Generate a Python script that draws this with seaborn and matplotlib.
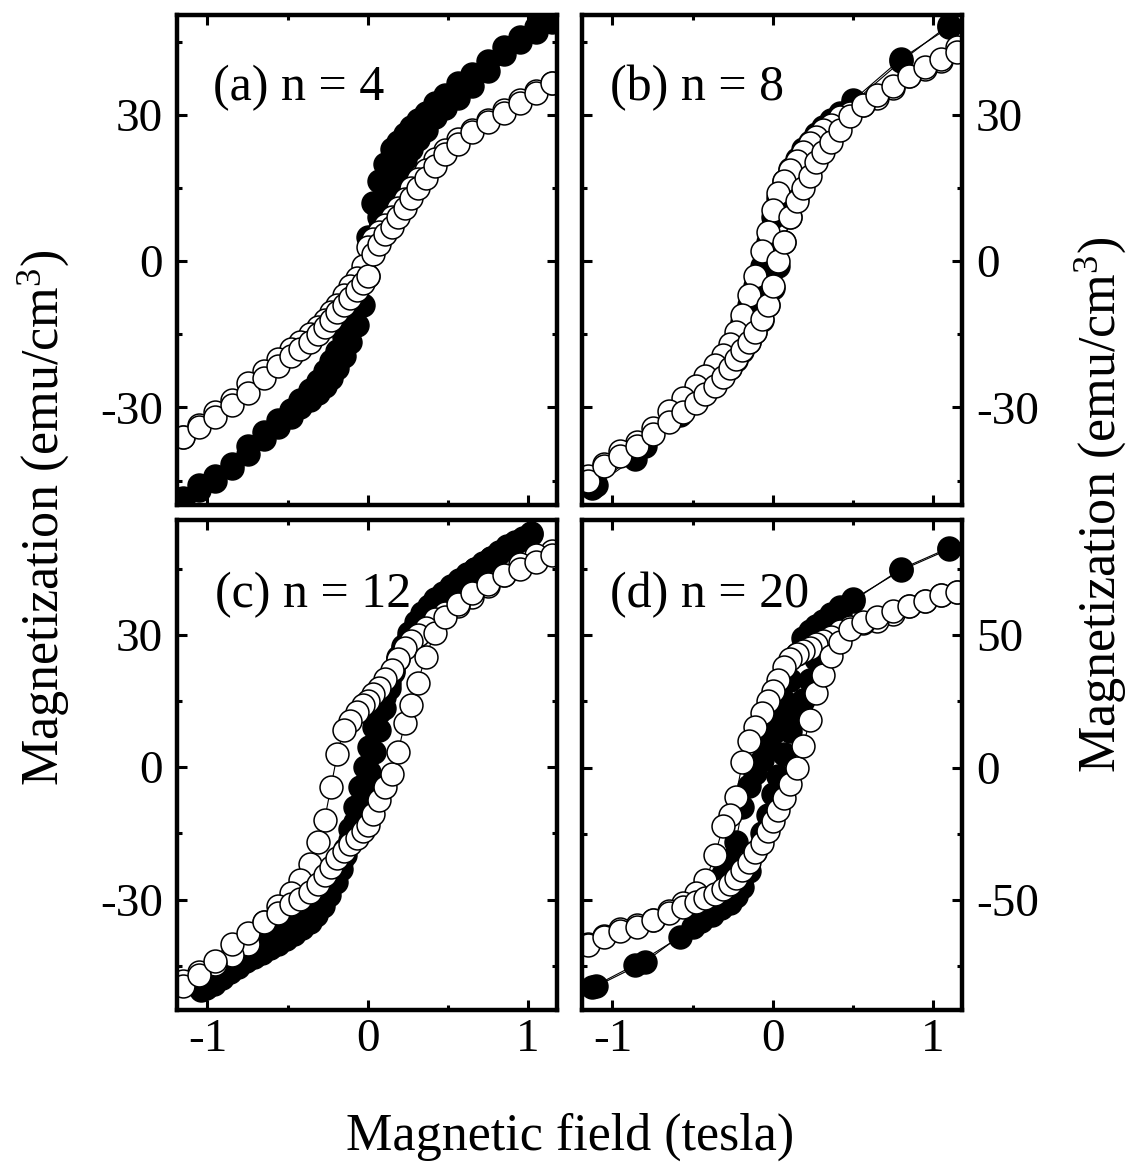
import matplotlib
matplotlib.use("Agg")
import matplotlib.pyplot as plt
import seaborn as sns
from matplotlib.ticker import MultipleLocator

# ---------------------------------------------------------------
# Field sweeps (tesla)
# ---------------------------------------------------------------
field_down = [1.15, 1.05, 0.95, 0.85, 0.75, 0.65, 0.56, 0.48, 0.42, 0.36,
              0.31, 0.27, 0.23, 0.19, 0.15, 0.11, 0.07, 0.03, 0.0, -0.03,
              -0.07, -0.11, -0.15, -0.19, -0.23, -0.27, -0.31, -0.36, -0.42, -0.48,
              -0.56, -0.65, -0.75, -0.85, -0.95, -1.05, -1.15]
field_up = field_down[::-1]

field_coarse_down = [1.1, 0.8, 0.5, 0.42, 0.36, 0.31, 0.27, 0.23, 0.19, 0.15,
                     0.11, 0.07, 0.03, 0.0, -0.03, -0.07, -0.11, -0.15, -0.19, -0.23,
                     -0.27, -0.31, -0.36, -0.42, -0.5, -0.8, -1.1]
field_coarse_up = [-1.13, -0.86, -0.58, -0.45, -0.38, -0.32, -0.27, -0.23, -0.19, -0.15,
                   -0.11, -0.07, -0.03, 0.0, 0.03, 0.07, 0.11, 0.15, 0.19, 0.23,
                   0.27, 0.31, 0.36, 0.42, 0.5, 0.8, 1.1]

field_band_down = [1.02, 0.97, 0.92, 0.87, 0.82, 0.77, 0.72, 0.67, 0.62, 0.57,
                   0.52, 0.47, 0.42, 0.38, 0.34, 0.30, 0.26, 0.22, 0.19, 0.16,
                   0.13, 0.10, 0.07, 0.04, 0.01, -0.02, -0.05, -0.08, -0.11, -0.14,
                   -0.17, -0.20, -0.24, -0.28, -0.32, -0.36, -0.41, -0.46, -0.51, -0.56,
                   -0.61, -0.66, -0.71, -0.76, -0.81, -0.86, -0.91, -0.96, -1.01, -1.04]
field_band_up = field_band_down[::-1]

# ---------------------------------------------------------------
# Magnetization (emu/cm^3): filled = solid symbols, open = hollow symbols
# ---------------------------------------------------------------
# (a) n = 4
m4_filled_down = [49.5, 48, 46, 44, 41, 38.5, 36.5, 34, 32.5, 30.5,
                  29, 27.5, 26, 24.5, 23, 20, 16.5, 12, 5, -3,
                  -8, -12, -15.5, -18.5, -20.5, -22.5, -24.5, -26.5, -28.5, -30.5,
                  -32.5, -35, -38, -41.5, -44, -46, -48.5]
m4_filled_up = [-49, -47, -45, -42.5, -39.5, -36.5, -34, -32, -30, -28.5,
                -27, -25.5, -24, -22, -19.5, -16.5, -13, -9, -3, 4,
                9, 12.5, 15.5, 18.5, 21, 23, 25, 27, 29.5, 31.5,
                33.5, 36, 39, 42.5, 45, 47, 49]
m4_open_down = [36.5, 35, 33, 31, 29, 27, 25, 22.8, 21, 18.8,
                16.8, 15, 12.8, 11, 9, 7.5, 6, 4.5, 3, -1,
                -3.5, -5, -7, -9, -10.5, -12, -13.5, -15, -16.5, -18,
                -20, -22.5, -25, -28.5, -31, -33.5, -36]
m4_open_up = [-36, -34, -32, -29.5, -27, -24, -21.5, -19.5, -18, -16.5,
              -15, -13.5, -12, -10.5, -9, -7.5, -6, -4.5, -3, 1.5,
              3.5, 5.5, 7, 9, 11, 13, 15, 17, 19.5, 22,
              24, 26.5, 28.5, 30.5, 32.5, 34.5, 36.5]

# (b) n = 8
m8_filled_down = [48, 41.5, 33, 30.5, 29, 27.5, 26, 24.5, 23, 21,
                  19, 16.5, 13, 9, 4, -1, -5, -9, -12.5, -15.5,
                  -18, -20, -22.5, -25, -28, -38, -46]
m8_filled_up = [-46.5, -40.5, -31.5, -27.5, -25.5, -23.8, -22, -20.3, -18.5, -16.5,
                -14.5, -12, -9, -5.5, -1, 4, 9, 13, 16, 19,
                21.5, 23.5, 26, 28.5, 32.5, 41, 48.5]
m8_open_down = [44, 41, 39.5, 38, 35.5, 33.5, 32, 30.5, 29.5, 28,
                27, 25.5, 24.2, 22.5, 20.5, 18.8, 16.5, 14, 10.5, 6,
                2, -3, -7, -11, -14.5, -17, -19.3, -21.3, -23.5, -25.5,
                -28, -30.8, -34.3, -37, -39, -41.5, -44]
m8_open_up = [-45, -42, -40, -38, -35.5, -33, -31, -29, -27.3, -25.5,
              -23.8, -22, -20, -18.2, -16.5, -14.5, -11.8, -9, -5, 0,
              4, 9, 12.3, 15, 17.5, 20.3, 22.3, 24.5, 27, 29.8,
              32, 34, 36, 38, 39.8, 41.5, 43]

# (c) n = 12
m12_filled_down = [52.8, 51.8, 50.8, 49.8, 48.5, 47.3, 46, 45, 43.8, 42.5,
                   41, 39.5, 38, 36.5, 35, 33, 30.5, 27.5, 25, 22,
                   19, 16, 12.5, 9, 4.5, 0, -4.5, -9, -14, -18.5,
                   -21.5, -24, -26.5, -28.5, -30.5, -32, -33.8, -35, -36.3, -37.5,
                   -38.5, -39.5, -40.5, -41.5, -42.8, -44.2, -45.7, -47.3, -48.8, -49.8]
m12_filled_up = [-50.5, -50, -49, -47.8, -46.5, -45.3, -44, -43, -42, -41,
                 -40, -39, -37.8, -36.5, -35, -33.5, -31.5, -29, -26, -23,
                 -20, -16.5, -12.5, -8.5, -5, -1, 3.5, 8.5, 13.5, 18,
                 21.5, 24.5, 27, 29.5, 32, 34, 36, 37.5, 39, 40.5,
                 42, 43.5, 45, 46.3, 47.5, 48.8, 50, 51, 52, 53]
m12_open_down = [49, 48, 46, 43.5, 41, 38.5, 36.5, 35, 33.5, 31.5,
                 30, 28.5, 27, 24.5, 22, 20, 18, 16.5, 15, 14,
                 12.5, 10.5, 8.5, 3, -4.5, -12, -17, -22, -25.5, -28.5,
                 -31.5, -35, -40, -42.5, -44.5, -46.5, -48.5]
m12_open_up = [-49.5, -47, -44, -40, -37.5, -35, -33, -31, -29.8, -28.3,
               -26.5, -24.5, -22.5, -20.5, -19, -17.5, -16, -14.5, -13, -10.5,
               -7.5, -4.5, -1.5, 3.5, 10, 14, 19, 25, 30.5, 34,
               37, 39.5, 41.5, 43.5, 45, 46.5, 48]

# (d) n = 20
m20_filled_down = [82.5, 74.5, 63.5, 60.5, 58, 55.5, 53.5, 51.5, 49, 43,
                   33, 25, 18, 13, 9, 3, -2, -7, -15, -28,
                   -35, -40, -47, -55, -60, -73.5, -82.5]
m20_filled_up = [-83, -74.5, -64, -58, -55.5, -53, -51, -48.5, -45, -39,
                 -32, -24.5, -18, -10, -3, 5, 14, 20, 25.5, 33,
                 41, 48, 54, 58.5, 63, 75, 83]
m20_open_down = [66.5, 65, 63, 61, 58, 55.5, 54.5, 53, 51.5, 49.5,
                 48, 46.5, 45, 44, 43, 41, 38, 33, 29, 25,
                 20.5, 15.5, 10, 2, -11, -18, -22, -33, -42.5, -47.5,
                 -51, -54, -57.5, -59.5, -61, -63.5, -66.5]
m20_open_up = [-67, -64, -61.5, -60, -57.5, -55, -52.5, -50.8, -49.3, -47.8,
               -46, -44, -41.5, -38.5, -35.5, -32, -28.5, -24, -20, -16,
               -11.5, -6, 0, 8, 18, 28, 35, 42, 47.5, 52.5,
               55, 57, 59, 61, 63, 65, 66.5]

panel_labels = ["(a) n = 4", "(b) n = 8", "(c) n = 12", "(d) n = 20"]
y_limits = [(-50, 50.5), (-50, 50.5), (-55, 56), (-91.5, 93.5)]
y_steps = [(30, 15), (30, 15), (30, 15), (50, 25)]

# ---------------------------------------------------------------
# Style
# ---------------------------------------------------------------
sns.set_style("ticks")
plt.rcParams["font.family"] = ["Liberation Serif", "DejaVu Serif"]
plt.rcParams["mathtext.fontset"] = "custom"
plt.rcParams["mathtext.rm"] = "Liberation Serif"
plt.rcParams["mathtext.it"] = "Liberation Serif:italic"
plt.rcParams["axes.unicode_minus"] = False
plt.rcParams["text.color"] = "black"
plt.rcParams["axes.labelcolor"] = "black"
plt.rcParams["xtick.color"] = "black"
plt.rcParams["ytick.color"] = "black"

W, H = 1131, 1162
fig = plt.figure(figsize=(W / 100, H / 100), dpi=100)

col_left = [177, 582]
row_top = [15, 520]
ax_w, ax_h = 380, 490

loops = [
    (field_down, m4_filled_down, field_up, m4_filled_up,
     field_down, m4_open_down, field_up, m4_open_up),
    (field_coarse_down, m8_filled_down, field_coarse_up, m8_filled_up,
     field_down, m8_open_down, field_up, m8_open_up),
    (field_band_down, m12_filled_down, field_band_up, m12_filled_up,
     field_down, m12_open_down, field_up, m12_open_up),
    (field_coarse_down, m20_filled_down, field_coarse_up, m20_filled_up,
     field_down, m20_open_down, field_up, m20_open_up),
]

label_pos = [(0.095, 0.826), (0.074, 0.826), (0.100, 0.822), (0.074, 0.822)]


def draw_branch(ax, h, m, face):
    sns.lineplot(x=h, y=m, sort=False, estimator=None, ax=ax,
                 color="black", linewidth=0.8, marker="o", markersize=16.5,
                 markerfacecolor=face, markeredgecolor="black",
                 markeredgewidth=1.1, legend=False)


for i in range(4):
    r, c = divmod(i, 2)
    left = col_left[c] / W
    bottom = 1 - (row_top[r] + ax_h) / H
    ax = fig.add_axes([left, bottom, ax_w / W, ax_h / H])

    hfd, mfd, hfu, mfu, hod, mod, hou, mou = loops[i]
    draw_branch(ax, hfd, mfd, "black")
    draw_branch(ax, hfu, mfu, "black")
    draw_branch(ax, hod, mod, "white")
    draw_branch(ax, hou, mou, "white")

    ax.set_xlim(-1.19, 1.18)
    ax.set_ylim(*y_limits[i])
    ax.xaxis.set_major_locator(MultipleLocator(1))
    ax.xaxis.set_minor_locator(MultipleLocator(0.5))
    ax.yaxis.set_major_locator(MultipleLocator(y_steps[i][0]))
    ax.yaxis.set_minor_locator(MultipleLocator(y_steps[i][1]))
    ax.set_xlabel("")
    ax.set_ylabel("")

    for s in ax.spines.values():
        s.set_visible(True)
        s.set_linewidth(3.2)
        s.set_color("black")

    ax.tick_params(which="both", direction="in", top=True, bottom=True,
                   left=True, right=True, width=2.2, color="black",
                   labelsize=34, labelcolor="black")
    ax.tick_params(which="major", length=7.5)
    ax.tick_params(which="minor", length=3.8)
    ax.tick_params(axis="x", pad=6)
    ax.tick_params(axis="y", pad=10)
    ax.tick_params(labelbottom=(r == 1), labeltop=False,
                   labelleft=(c == 0), labelright=(c == 1))

    ax.text(label_pos[i][0], label_pos[i][1], panel_labels[i],
            transform=ax.transAxes, fontsize=36, va="baseline", ha="left",
            color="black")

ylab = "Magnetization (emu/cm$^3$)"
fig.text(43 / W, 1 - 518 / H, ylab, rotation=90, ha="center", va="center",
         fontsize=37.5, color="black")
fig.text(1100 / W, 1 - 505 / H, ylab, rotation=90, ha="center", va="center",
         fontsize=37.5, color="black")
fig.text(570 / W, 1 - 1150 / H, "Magnetic field (tesla)", ha="center",
         va="baseline", fontsize=37.5, color="black")

fig.savefig("out.png", dpi=100, facecolor="white")
